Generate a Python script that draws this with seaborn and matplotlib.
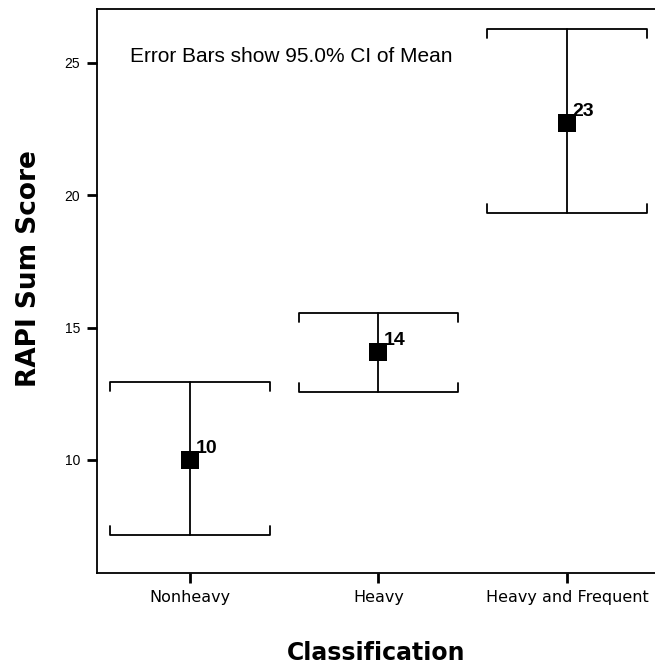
import matplotlib
matplotlib.use("Agg")
import matplotlib.pyplot as plt
import seaborn as sns
import pandas as pd

# summary values (mean and 95% CI)
groups = ["Nonheavy", "Heavy", "Heavy and Frequent"]
means = [10.0, 14.08, 22.75]
ci_low = [7.15, 12.57, 19.33]
ci_high = [12.95, 15.56, 26.3]
mean_labels = ["10", "14", "23"]
yticks = [10, 15, 20, 25]

df = pd.DataFrame({"Classification": groups, "mean": means, "lo": ci_low, "hi": ci_high})

sns.set_style("white")
plt.rcParams["font.family"] = ["Liberation Sans", "DejaVu Sans"]
plt.rcParams["text.color"] = "black"
plt.rcParams["axes.labelcolor"] = "black"
plt.rcParams["xtick.color"] = "black"
plt.rcParams["ytick.color"] = "black"

fig = plt.figure(figsize=(6.55, 6.67), dpi=100)
ax = fig.add_axes([97 / 655, 1 - 573 / 667, 1 - 97 / 655, (573 - 9) / 667])

# error bars: vertical line + bracket caps
cap = 0.424
tick = 0.34
for i, row in df.iterrows():
    ax.plot([i, i], [row["lo"], row["hi"]], color="black", lw=1.3, zorder=1)
    ax.plot([i - cap, i - cap, i + cap, i + cap],
            [row["hi"] - tick, row["hi"], row["hi"], row["hi"] - tick],
            color="black", lw=1.3, zorder=1)
    ax.plot([i - cap, i - cap, i + cap, i + cap],
            [row["lo"] + tick, row["lo"], row["lo"], row["lo"] + tick],
            color="black", lw=1.3, zorder=1)

sns.scatterplot(data=df, x="Classification", y="mean", marker="s", s=150,
                color="black", edgecolor="black", linewidth=0, ax=ax, zorder=3)

for i, (m, lab) in enumerate(zip(means, mean_labels)):
    ax.annotate(lab, (i, m), xytext=(4, 2), textcoords="offset points",
                fontsize=14, fontweight="bold", ha="left", va="bottom",
                family=["Liberation Sans Narrow", "Liberation Sans", "DejaVu Sans"])

ax.set_xlim(-0.493, 2.467)
ax.set_ylim(5.73, 27.04)
ax.set_yticks(yticks)
ax.set_yticklabels([str(t) for t in yticks], fontsize=10)
ax.set_xticks(range(len(groups)))
ax.set_xticklabels(groups, fontsize=11.5, family=["DejaVu Sans"])
ax.tick_params(axis="both", direction="out", length=7, width=2, color="black",
               left=True, bottom=True, pad=5)

for side in ["left", "bottom", "top"]:
    ax.spines[side].set_color("black")
    ax.spines[side].set_linewidth(1.3)
ax.spines["right"].set_visible(False)

# note in the upper left, placed in figure pixel coords
fig.text(130 / 655, 1 - 57 / 667, "Error Bars show 95.0% CI of Mean",
         fontsize=15, ha="left", va="center")

ax.set_xlabel("Classification", fontsize=17, fontweight="bold", labelpad=26,
              family=["DejaVu Sans"])
ax.set_ylabel("RAPI Sum Score", fontsize=19, fontweight="bold",
              family=["DejaVu Sans"])
ax.yaxis.set_label_coords(-0.099, 0.54)

fig.savefig("out.png", dpi=100, facecolor="white")
